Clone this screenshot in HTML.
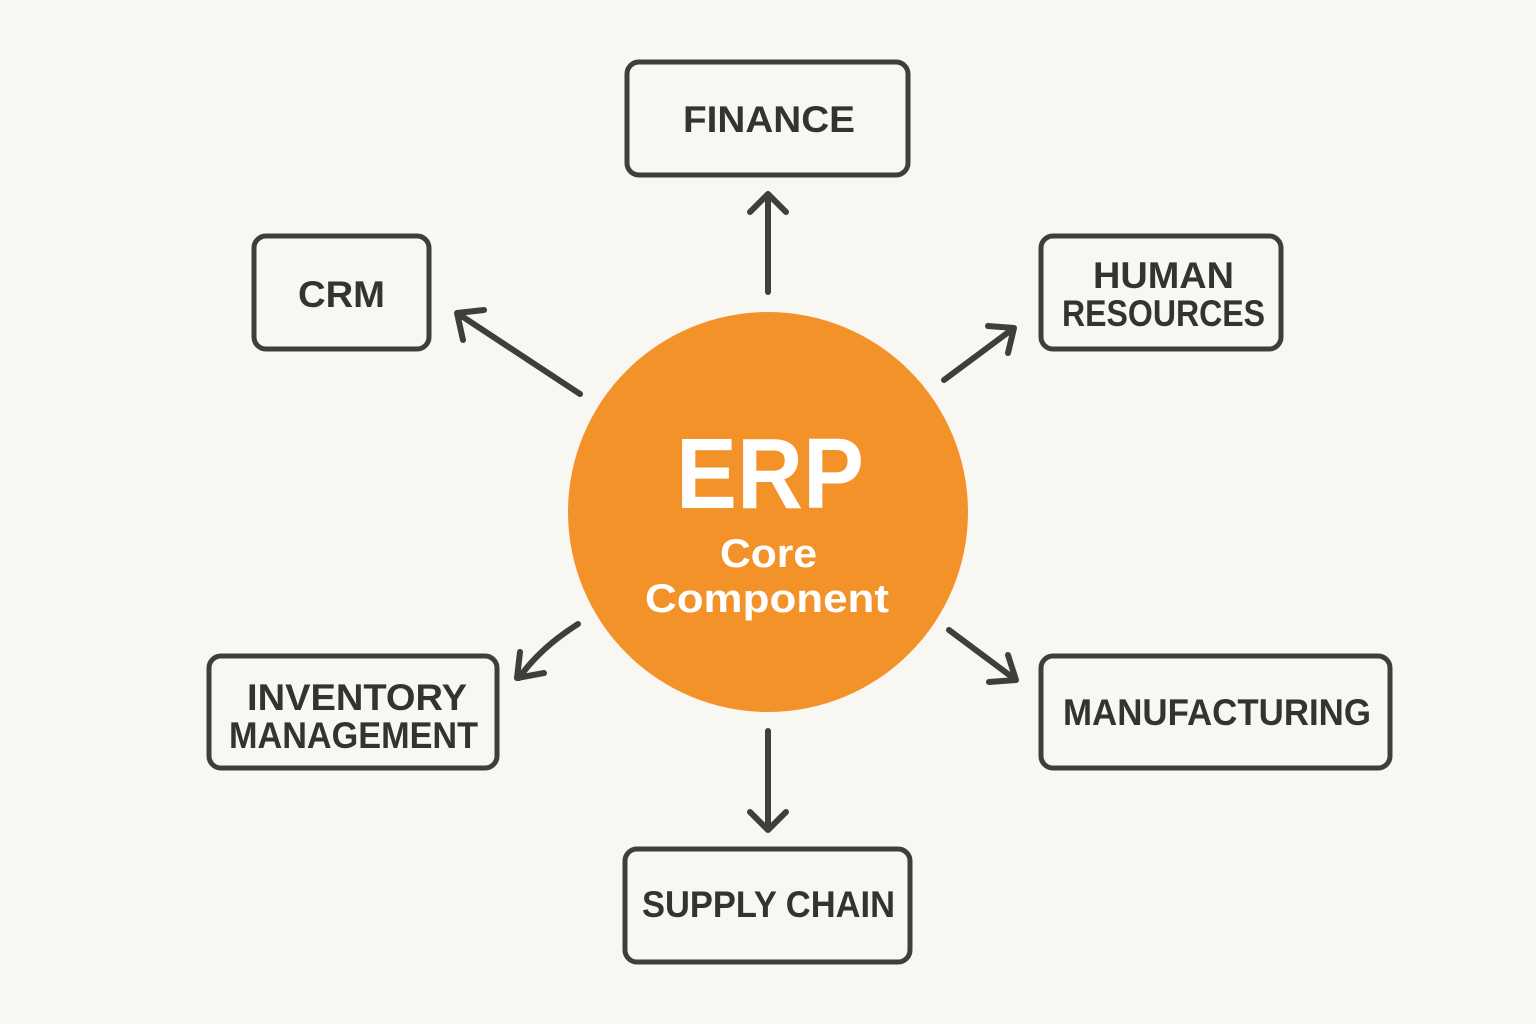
<!DOCTYPE html>
<html><head><style>
html,body{margin:0;padding:0;background:#f9f7f2;}
svg{display:block}
text{font-family:"Liberation Sans",sans-serif;font-weight:bold;}
</style></head><body>
<svg width="1536" height="1024" viewBox="0 0 1536 1024">
<rect width="1536" height="1024" fill="#f9f7f2"/>
<circle cx="768" cy="512" r="200" fill="#f4922a"/>
<g fill="none" stroke="#3d3f3c" stroke-width="5">
<rect x="627" y="62" width="281" height="113" rx="12"/>
<rect x="254" y="236" width="175" height="113" rx="12"/>
<rect x="1041" y="236" width="240" height="113" rx="12"/>
<rect x="209" y="656" width="288" height="112" rx="12"/>
<rect x="1041" y="656" width="349" height="112" rx="12"/>
<rect x="625" y="849" width="285" height="113" rx="12"/>
</g>
<g fill="none" stroke="#3d3f3c" stroke-width="6" stroke-linecap="round" stroke-linejoin="round">
<path d="M768 292 L768 194 M750 212 L768 194 L786 212"/>
<path d="M580 394 L457 313 M463 340 L457 313 L484 310"/>
<path d="M944 380 L1014 328 M988 326 L1014 328 L1008 353"/>
<path d="M578 624 Q540 648 519 678 M520 652 L517 678 L544 673"/>
<path d="M949 630 L1016 680 M989 682 L1016 680 L1008 655"/>
<path d="M768 731 L768 830 M750 812 L768 830 L786 812"/>
</g>
<g fill="#333" font-size="37" lengthAdjust="spacingAndGlyphs">
<text x="683" y="132" textLength="172" lengthAdjust="spacingAndGlyphs">FINANCE</text>
<text x="298" y="307" textLength="87" lengthAdjust="spacingAndGlyphs">CRM</text>
<text x="1093" y="288" textLength="141" lengthAdjust="spacingAndGlyphs">HUMAN</text>
<text x="1062" y="326" textLength="203" lengthAdjust="spacingAndGlyphs">RESOURCES</text>
<text x="247" y="710" textLength="220" lengthAdjust="spacingAndGlyphs">INVENTORY</text>
<text x="229" y="748" textLength="249" lengthAdjust="spacingAndGlyphs">MANAGEMENT</text>
<text x="1063" y="725" textLength="308" lengthAdjust="spacingAndGlyphs">MANUFACTURING</text>
<text x="642" y="917" textLength="253" lengthAdjust="spacingAndGlyphs">SUPPLY CHAIN</text>
</g>
<g fill="#fff">
<text x="676" y="508" font-size="100" textLength="188" lengthAdjust="spacingAndGlyphs">ERP</text>
<text x="720" y="567" font-size="40" textLength="97" lengthAdjust="spacingAndGlyphs">Core</text>
<text x="645" y="612" font-size="40" textLength="244" lengthAdjust="spacingAndGlyphs">Component</text>
</g>
</svg>
</body></html>
